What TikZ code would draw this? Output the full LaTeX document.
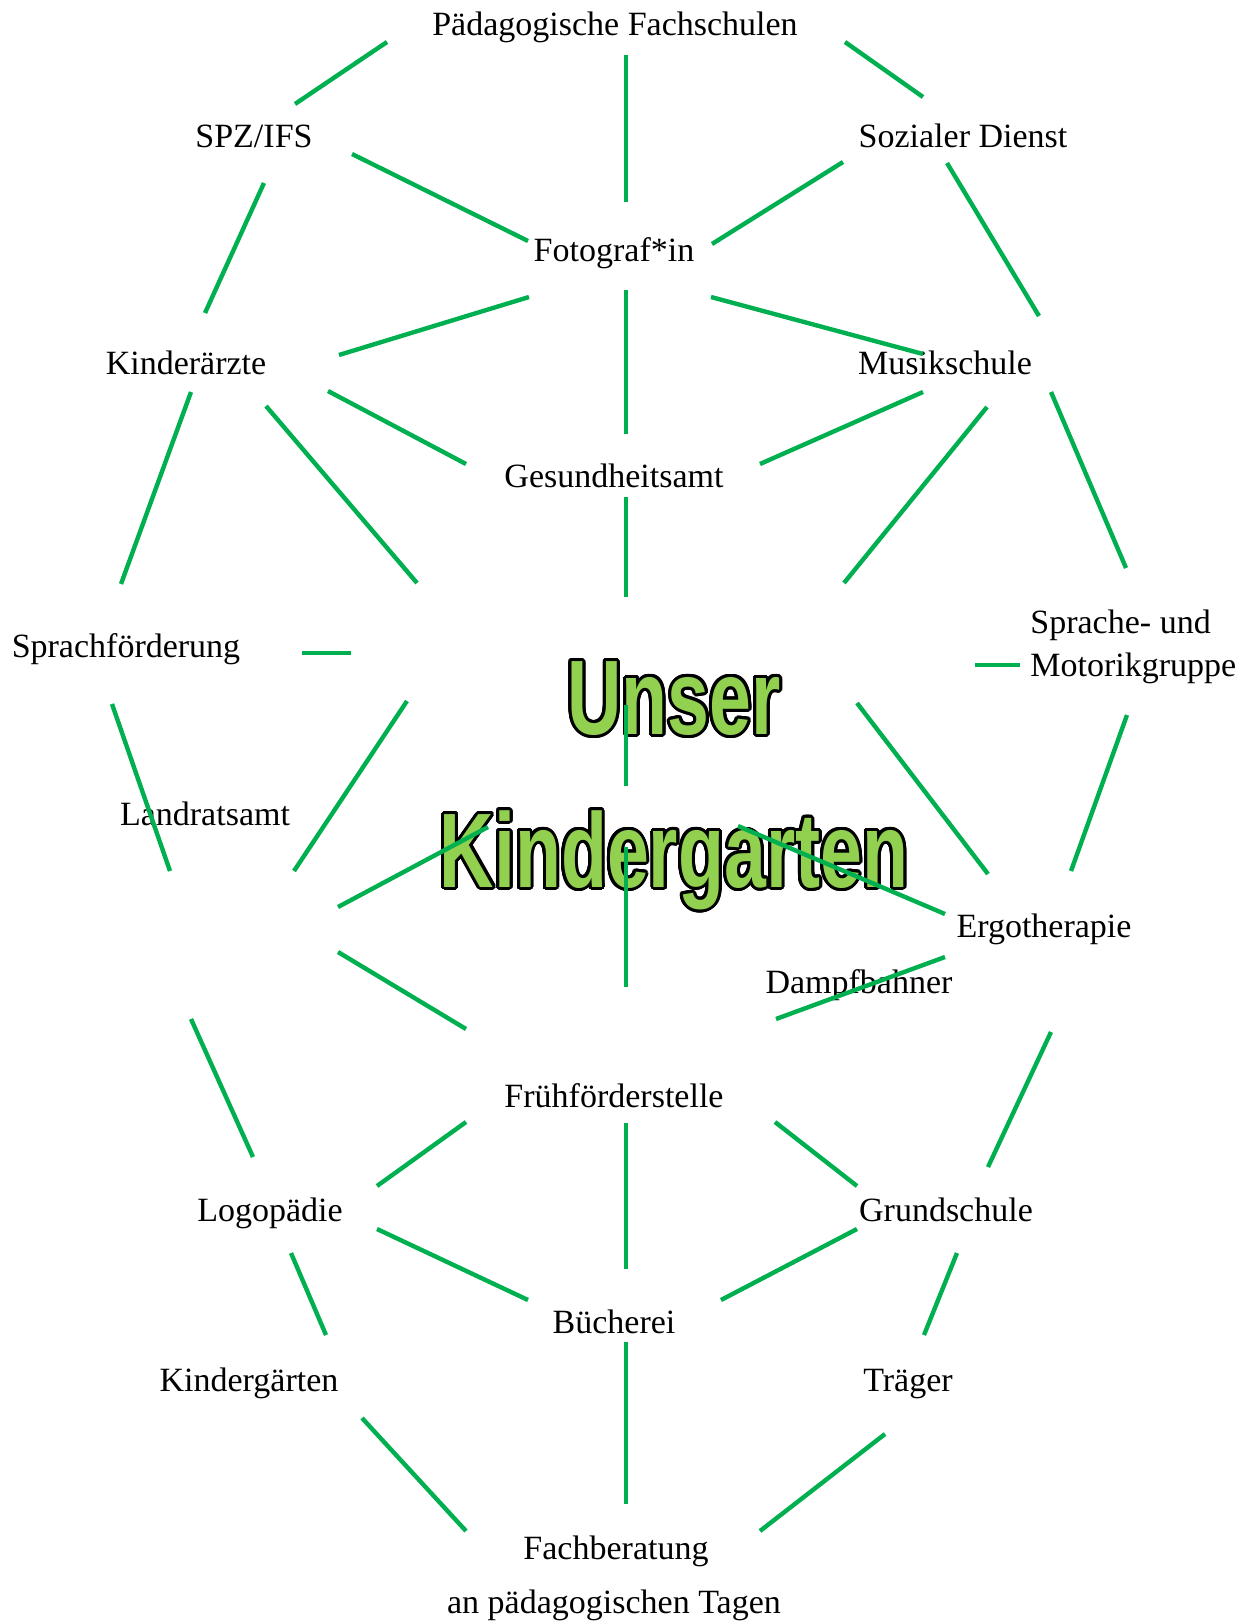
\documentclass[tikz,border=0pt]{standalone}
\usepackage{fontspec}
\setmainfont{Liberation Serif}
\newfontfamily\titlefont{Liberation Sans}[FakeStretch=0.71]
\usepackage{contour}
\contourlength{1.5pt}
\contournumber{24}

\definecolor{linegreen}{HTML}{00B050}
\definecolor{titlegreen}{HTML}{92D050}

\begin{document}
\begin{tikzpicture}[x=0.5pt, y=-0.5pt,
  link/.style={linegreen, line width=2.2pt},
  entry/.style={anchor=base, inner sep=0pt},
  font=\fontsize{17}{21.5}\selectfont]

\useasboundingbox (0,0) rectangle (1250,1621);

% the partners
\node[entry] (pfs) at (615,36) {Pädagogische Fachschulen};
\node[entry] (spz) at (254,148) {SPZ/IFS};
\node[entry] (sozial) at (963,148) {Sozialer Dienst};
\node[entry] (foto) at (614,262) {Fotograf*in};
\node[entry] (aerzte) at (186,374) {Kinderärzte};
\node[entry] (musik) at (945,374) {Musikschule};
\node[entry] (gesund) at (614,487) {Gesundheitsamt};
\node[entry] (sprach) at (126,657) {Sprachförderung};
\node[anchor=west, inner sep=0pt, align=left] (motorik) at (1030,647) {Sprache- und\\Motorikgruppe};
\node[entry] (landrat) at (205,825) {Landratsamt};
\node[entry] (ergo) at (1044,937) {Ergotherapie};
\node[entry] (dampf) at (859,993) {Dampfbahner};
\node[entry] (frueh) at (614,1107) {Frühförderstelle};
\node[entry] (logo) at (270,1221) {Logopädie};
\node[entry] (grund) at (946,1221) {Grundschule};
\node[entry] (buch) at (614,1333) {Bücherei};
\node[entry] (kigas) at (249,1391) {Kindergärten};
\node[entry] (traeger) at (908,1391) {Träger};
\node[entry] (fach) at (616,1559) {Fachberatung};
\node[entry] (tage) at (614,1613) {an pädagogischen Tagen};

% middle
\node[inner sep=0pt, align=center, text=titlegreen,
  font=\titlefont\bfseries\fontsize{53}{76.5}\selectfont] (kiga) at (674,787)
  {\contour{black}{Unser}\\\contour{black}{Kindergarten}};

% top
\draw[link] (387,42) -- (295,104);
\draw[link] (626,55) -- (626,202);
\draw[link] (845,42) -- (923,97);
\draw[link] (352,154) -- (528,241);
\draw[link] (843,162) -- (712,244);
\draw[link] (264,183) -- (205,313);
\draw[link] (947,163) -- (1039,316);
\draw[link] (529,297) -- (339,355);
\draw[link] (626,290) -- (626,434);
\draw[link] (711,297) -- (923,354);
\draw[link] (328,391) -- (466,464);
\draw[link] (923,392) -- (760,464);
\draw[link] (191,392) -- (121,584);
\draw[link] (266,406) -- (417,583);
\draw[link] (626,497) -- (626,597);
\draw[link] (987,407) -- (844,583);
\draw[link] (1051,392) -- (1126,568);

% around the middle
\draw[link] (302,653) -- (351,653);
\draw[link] (975,665) -- (1020,665);
\draw[link] (112,704) -- (170,871);
\draw[link] (407,701) -- (294,871);
\draw[link] (626,705) -- (626,786);
\draw[link] (626,847) -- (626,987);
\draw[link] (338,907) -- (488,827);
\draw[link] (338,952) -- (466,1029);
\draw[link] (738,826) -- (945,914);
\draw[link] (945,957) -- (776,1019);
\draw[link] (857,703) -- (988,874);
\draw[link] (1127,715) -- (1071,871);

% bottom
\draw[link] (191,1019) -- (253,1157);
\draw[link] (466,1122) -- (377,1186);
\draw[link] (626,1123) -- (626,1269);
\draw[link] (775,1122) -- (857,1186);
\draw[link] (1051,1032) -- (988,1167);
\draw[link] (377,1229) -- (528,1300);
\draw[link] (857,1229) -- (721,1300);
\draw[link] (291,1253) -- (326,1335);
\draw[link] (957,1253) -- (924,1335);
\draw[link] (626,1342) -- (626,1504);
\draw[link] (362,1418) -- (466,1531);
\draw[link] (885,1434) -- (760,1531);

\end{tikzpicture}
\end{document}
